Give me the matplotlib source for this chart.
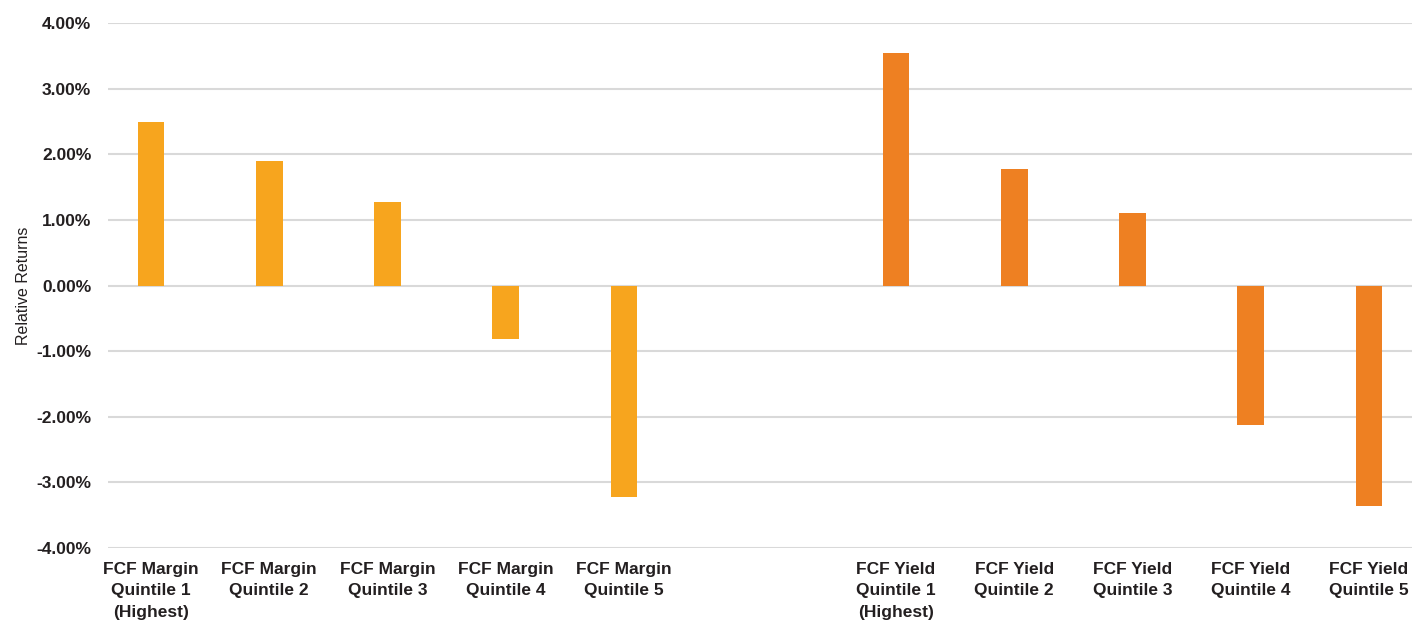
import matplotlib
matplotlib.use("Agg")
import matplotlib.pyplot as plt
from matplotlib.ticker import FuncFormatter

plt.rcParams['font.family'] = ['Liberation Sans', 'DejaVu Sans']

margin_labels = ["FCF Margin\nQuintile 1\n(Highest)", "FCF Margin\nQuintile 2", "FCF Margin\nQuintile 3",
                 "FCF Margin\nQuintile 4", "FCF Margin\nQuintile 5"]
yield_labels = ["FCF Yield\nQuintile 1\n(Highest)", "FCF Yield\nQuintile 2", "FCF Yield\nQuintile 3",
                "FCF Yield\nQuintile 4", "FCF Yield\nQuintile 5"]
margin_values = [2.49, 1.90, 1.28, -0.81, -3.23]
yield_values = [3.54, 1.77, 1.10, -2.13, -3.36]

margin_color = '#F7A51E'
yield_color = '#EE8022'
text_color = '#231F20'

fig = plt.figure(figsize=(14.24, 6.25), dpi=100)
ax = fig.add_axes([0.0758, 0.1232, 0.9916 - 0.0758, 0.9632 - 0.1232])

gap = 2.3
x1 = list(range(len(margin_values)))
x2 = [4 + gap + i for i in range(len(yield_values))]
w = 0.226
ax.bar(x1, margin_values, width=w, color=margin_color, zorder=3)
ax.bar(x2, yield_values, width=w, color=yield_color, zorder=3)

ax.set_ylim(-4, 4)
ax.set_xlim(-0.364, x2[-1] + 0.364)
ax.set_yticks(range(-4, 5))
ax.yaxis.set_major_formatter(FuncFormatter(lambda v, p: f"{v:.2f}%"))
ax.grid(axis='y', color='#D9D9D9', linewidth=1.5, zorder=0)
for s in ax.spines.values():
    s.set_visible(False)
ax.tick_params(axis='y', length=0, pad=12, labelsize=12.5, labelcolor=text_color)
ax.tick_params(axis='x', length=0, pad=10, labelsize=12.5, labelcolor=text_color)
ax.set_xticks(x1 + x2)
ax.set_xticklabels(margin_labels + yield_labels, linespacing=1.55, va='top')
for t in ax.get_yticklabels() + ax.get_xticklabels():
    t.set_fontweight('bold')
ax.set_ylabel("Relative Returns", fontsize=11.5, color=text_color, labelpad=4)

fig.savefig("out.png", dpi=100)
